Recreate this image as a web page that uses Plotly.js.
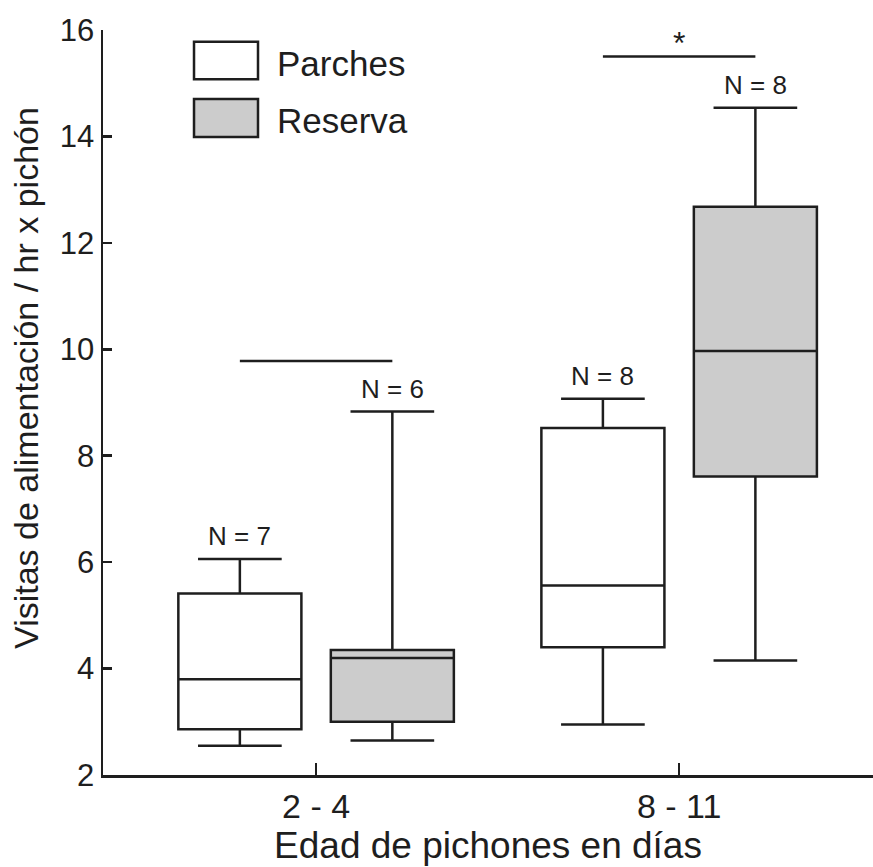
<!DOCTYPE html>
<html>
<head>
<meta charset="utf-8">
<script src="https://cdn.plot.ly/plotly-3.0.1.min.js"></script>
<style>html,body{margin:0;padding:0;background:#fff;}</style>
</head>
<body>
<div id="chart" style="width:873px;height:867px;"></div>
<script>
// ---- data ----
var categories = ['2 - 4', '8 - 11'];
var seriesNames = ['Parches', 'Reserva'];

var parchesLower  = [2.55, 2.95];
var parchesQ1     = [2.86, 4.40];
var parchesMedian = [3.80, 5.56];
var parchesQ3     = [5.41, 8.52];
var parchesUpper  = [6.06, 9.07];
var parchesN      = [7, 8];

var reservaLower  = [2.65, 4.15];
var reservaQ1     = [3.00, 7.61];
var reservaMedian = [4.20, 9.97];
var reservaQ3     = [4.35, 12.68];
var reservaUpper  = [8.83, 14.54];
var reservaN      = [6, 8];

var sigLineY   = [9.78, 15.50];
var sigMarks   = ['', '*'];

var yTickVals = [2, 4, 6, 8, 10, 12, 14, 16];

var xTitle = 'Edad de pichones en días';
var yTitle = 'Visitas de alimentación / hr x pichón';

// ---- style ----
var INK = '#1e1e1e';
var GREY = '#cccccc';
var FONT = 'Liberation Sans, Arial, sans-serif';
var LW = 2.5;
var boxgap = 0.16, boxgroupgap = 0.193;
var off = (1 - boxgap) / 4;  // offset of grouped boxes from category centre

function boxTrace(name, fill, lo, q1, med, q3, up) {
  return {
    type: 'box', name: name, x: categories,
    lowerfence: lo, q1: q1, median: med, q3: q3, upperfence: up,
    fillcolor: fill,
    line: {color: INK, width: LW},
    whiskerwidth: 0.68,
    boxpoints: false,
    hoverinfo: 'skip',
    showlegend: false
  };
}

var data = [
  boxTrace(seriesNames[0], '#ffffff', parchesLower, parchesQ1, parchesMedian, parchesQ3, parchesUpper),
  boxTrace(seriesNames[1], GREY, reservaLower, reservaQ1, reservaMedian, reservaQ3, reservaUpper)
];

var shapes = [];
var annotations = [];

// N labels
categories.forEach(function (c, i) {
  annotations.push({x: i - off, y: parchesUpper[i], xref: 'x', yref: 'y', text: 'N = ' + parchesN[i],
    showarrow: false, yanchor: 'middle', yshift: 23, font: {family: FONT, size: 26, color: INK}});
  annotations.push({x: i + off, y: reservaUpper[i], xref: 'x', yref: 'y', text: 'N = ' + reservaN[i],
    showarrow: false, yanchor: 'middle', yshift: 23, font: {family: FONT, size: 26, color: INK}});
  // comparison line
  shapes.push({type: 'line', xref: 'x', yref: 'y', x0: i - off, x1: i + off, y0: sigLineY[i], y1: sigLineY[i],
    line: {color: INK, width: LW}});
  if (sigMarks[i]) {
    annotations.push({x: i, y: sigLineY[i], xref: 'x', yref: 'y', text: sigMarks[i], showarrow: false,
      yanchor: 'bottom', yshift: -6, font: {family: FONT, size: 32, color: INK}});
  }
});

// legend (drawn manually)
var legFills = ['#ffffff', GREY];
var legY = [[0.9338, 0.9843], [0.8564, 0.9074]];
seriesNames.forEach(function (n, i) {
  shapes.push({type: 'rect', xref: 'paper', yref: 'paper', x0: 0.1182, x1: 0.2013, y0: legY[i][0], y1: legY[i][1],
    fillcolor: legFills[i], line: {color: INK, width: LW}});
  annotations.push({xref: 'paper', yref: 'paper', x: 0.2235, y: (legY[i][0] + legY[i][1]) / 2 - 0.004, text: n,
    showarrow: false, xanchor: 'left', yanchor: 'middle', font: {family: FONT, size: 35, color: INK}});
});

// y axis title
annotations.push({xref: 'paper', yref: 'paper', x: -0.1, y: 0.533, text: yTitle, textangle: -90,
  showarrow: false, xanchor: 'center', yanchor: 'middle', font: {family: FONT, size: 34, color: INK}});

var layout = {
  width: 873, height: 867,
  margin: {l: 103, r: 0, t: 30, b: 92, pad: 0},
  paper_bgcolor: '#ffffff', plot_bgcolor: '#ffffff',
  font: {family: FONT, color: INK},
  boxmode: 'group', boxgap: boxgap, boxgroupgap: boxgroupgap,
  showlegend: false,
  xaxis: {
    type: 'category', range: [-0.587, 1.534],
    showline: true, linecolor: INK, linewidth: LW,
    ticks: 'inside', ticklen: 12, tickwidth: LW, tickcolor: INK,
    tickfont: {family: FONT, size: 34, color: INK},
    showgrid: false, zeroline: false, fixedrange: true,
    title: {text: xTitle, font: {family: FONT, size: 37, color: INK}, standoff: 2}
  },
  yaxis: {
    range: [2, 16], tickvals: yTickVals,
    showline: true, linecolor: INK, linewidth: LW,
    ticks: 'inside', ticklen: 9, tickwidth: LW, tickcolor: INK,
    tickfont: {family: FONT, size: 31, color: INK},
    showgrid: false, zeroline: false, fixedrange: true
  },
  shapes: shapes,
  annotations: annotations
};

Plotly.newPlot('chart', data, layout, {displayModeBar: false, staticPlot: true});
</script>
</body>
</html>
